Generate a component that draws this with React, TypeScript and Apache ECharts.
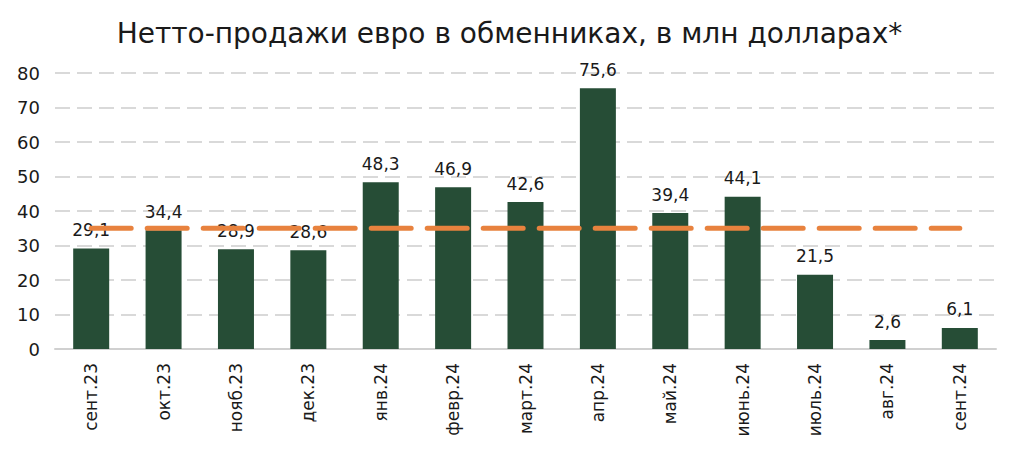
import React, { useEffect, useRef } from "react";
import * as echarts from "echarts";

const categories = ["сент.23", "окт.23", "нояб.23", "дек.23", "янв.24", "февр.24", "март.24", "апр.24", "май.24", "июнь.24", "июль.24", "авг.24", "сент.24"];
const sales = [29.1, 34.4, 28.9, 28.6, 48.3, 46.9, 42.6, 75.6, 39.4, 44.1, 21.5, 2.6, 6.1];
const averageLine = [35, 35, 35, 35, 35, 35, 35, 35, 35, 35, 35, 35, 35];
const titleText = "Нетто-продажи евро в обменниках, в млн долларах*";

const FONT = "DejaVu Sans";

export default function App() {
  const ref = useRef<HTMLDivElement>(null);
  useEffect(() => {
    document.body.style.margin = "0";
    if (!ref.current) return;
    const chart = echarts.init(ref.current, null, { renderer: "svg" });
    chart.setOption({
      animation: false,
      backgroundColor: "#ffffff",
      title: {
        text: titleText,
        left: "center",
        top: 14,
        textStyle: { fontFamily: FONT, fontSize: 28, fontWeight: "normal", color: "#1a1a1a" },
      },
      grid: { left: 55, right: 23, top: 73, bottom: 104, containLabel: false },
      xAxis: {
        type: "category",
        data: categories,
        axisLine: { lineStyle: { color: "#d0d0d0", width: 2 } },
        axisTick: { show: false },
        axisLabel: { rotate: 90, fontFamily: FONT, fontSize: 17, color: "#1a1a1a", margin: 14 },
      },
      yAxis: {
        type: "value",
        min: 0,
        max: 80,
        interval: 10,
        axisLine: { show: false },
        axisTick: { show: false },
        axisLabel: { fontFamily: FONT, fontSize: 18, color: "#1a1a1a", margin: 15 },
        splitLine: { lineStyle: { color: "#d9d9d9", width: 2, type: [15, 7] } },
      },
      series: [
        {
          type: "bar",
          data: sales,
          barWidth: 36,
          itemStyle: { color: "#264d36" },
          label: {
            show: true,
            position: "top",
            distance: 10,
            fontFamily: FONT,
            fontSize: 17,
            color: "#1a1a1a",
            formatter: (p: any) => String(p.value).replace(".", ","),
          },
          z: 2,
        },
        {
          type: "line",
          data: averageLine,
          symbol: "none",
          lineStyle: { color: "#e8823e", width: 5, type: [40, 16], cap: "round" },
          z: 3,
        },
      ],
    });
    return () => chart.dispose();
  }, []);
  return <div ref={ref} style={{ width: 1019, height: 453 }} />;
}
